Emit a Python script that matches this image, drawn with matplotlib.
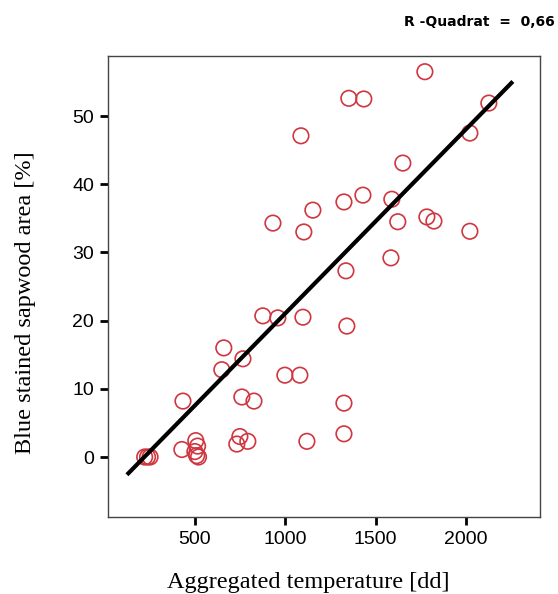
import numpy as np
import matplotlib
matplotlib.use("Agg")
import matplotlib.pyplot as plt

# aggregated temperature [dd]
temp = [1773, 1352, 1435, 1087, 2127, 2022, 1651, 1430, 1325, 1590,
        1153, 932, 1103, 1623, 1784, 1823, 2022, 1585, 1336, 876,
        959, 1098, 1341, 660, 766, 649, 998, 1081, 434, 760,
        827, 1325, 428, 505, 515, 500, 510, 520, 749, 793,
        732, 1120, 1325, 222, 238, 252]
# blue stained sapwood area [%]
blue = [56.5, 52.6, 52.5, 47.1, 51.9, 47.5, 43.1, 38.4, 37.4, 37.8,
        36.2, 34.3, 33.0, 34.5, 35.2, 34.6, 33.1, 29.2, 27.3, 20.7,
        20.4, 20.5, 19.2, 16.0, 14.4, 12.8, 12.0, 12.0, 8.2, 8.8,
        8.2, 7.9, 1.1, 2.4, 1.6, 0.8, 0.2, 0.0, 3.0, 2.3,
        1.9, 2.3, 3.4, 0.0, 0.0, 0.0]

# linear fit line
fit_x = [124, 2260]
fit_intercept = -5.95
fit_slope = 0.027
r_squared = "0,66"

fig = plt.figure(figsize=(5.58, 5.94), dpi=100)
ax = fig.add_axes([0.1935, 0.1296, 0.7742, 0.7761])

ax.scatter(temp, blue, s=125, facecolors="none", edgecolors="#d0363f", linewidths=1.2, zorder=2)

fx = np.array(fit_x)
ax.plot(fx, fit_intercept + fit_slope * fx, color="black", linewidth=3, solid_capstyle="butt", zorder=3)

ax.set_xlim(19, 2410)
ax.set_ylim(-8.8, 58.8)
ax.set_xticks([500, 1000, 1500, 2000])
ax.set_yticks([0, 10, 20, 30, 40, 50])
ax.tick_params(length=6, width=2, color="black", labelsize=14, pad=4)
for lab in ax.get_xticklabels() + ax.get_yticklabels():
    lab.set_family("Liberation Sans")
for sp in ax.spines.values():
    sp.set_color("#444444")
    sp.set_linewidth(1.0)

ax.set_xlabel("Aggregated temperature [dd]", family="Liberation Serif", fontsize=17.5, va="center")
ax.set_ylabel("Blue stained sapwood area [%]", family="Liberation Serif", fontsize=17.5, va="center")
ax.xaxis.set_label_coords(0.463, -0.141)
ax.yaxis.set_label_coords(-0.19, 0.466)

fig.text(0.995, 0.963, "R -Quadrat  =  " + r_squared, ha="right", va="center",
         fontsize=10, fontweight="bold", family="DejaVu Sans")

fig.savefig("out.png", dpi=100)
